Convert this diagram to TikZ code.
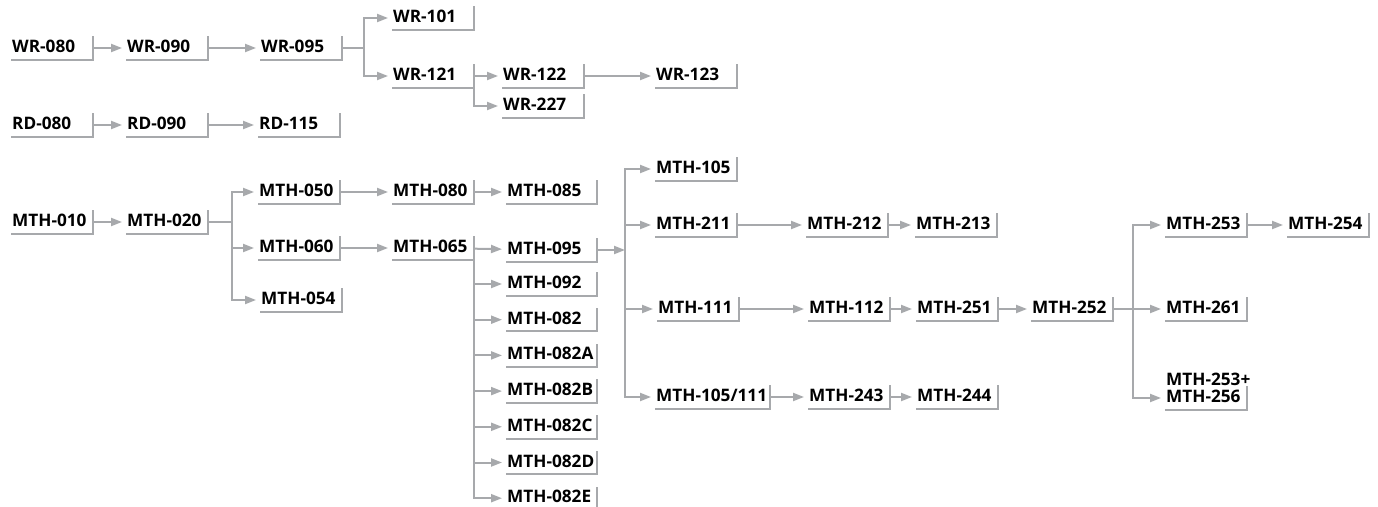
\documentclass[tikz,border=0pt]{standalone}
\usepackage{fontspec}
\setmainfont{Open Sans}
\usetikzlibrary{arrows.meta}
\definecolor{linegray}{RGB}{167,169,172}
\exhyphenpenalty=10000

\begin{document}
\begin{tikzpicture}[x=1pt,y=-1pt,
    crs/.style={font=\bfseries\fontsize{17.2}{17}\selectfont,anchor=west,inner xsep=1pt,inner ysep=4pt,
      text height=12pt,text depth=3pt,text width=80pt,align=left},
    wide/.style={text width=89pt},
    crstop/.style={font=\bfseries\fontsize{17.2}{17}\selectfont,anchor=south west,inner sep=1pt,text depth=0pt},
    bar/.style={draw=linegray,line width=2pt},
    link/.style={bar,-{Triangle[length=11pt,width=8pt]},shorten >=4pt}]
  \useasboundingbox (0,0) rectangle (1378,506);

  % writing
  \node[crs] (wr080) at (11,48) {WR-080};
  \node[crs] (wr090) at (126,48) {WR-090};
  \node[crs] (wr095) at (260,48) {WR-095};
  \node[crs] (wr101) at (392,18) {WR-101};
  \node[crs] (wr121) at (392,76) {WR-121};
  \node[crs] (wr122) at (502,76) {WR-122};
  \node[crs] (wr227) at (502,106) {WR-227};
  \node[crs] (wr123) at (655,76) {WR-123};

  % reading
  \node[crs] (rd080) at (11,125) {RD-080};
  \node[crs] (rd090) at (126,125) {RD-090};
  \node[crs] (rd115) at (258,125) {RD-115};

  % math
  \node[crs] (mth010) at (11,222) {MTH-010};
  \node[crs] (mth020) at (126,222) {MTH-020};
  \node[crs] (mth050) at (258,192) {MTH-050};
  \node[crs] (mth080) at (392,192) {MTH-080};
  \node[crs,wide] (mth085) at (506,192) {MTH-085};
  \node[crs] (mth060) at (258,248) {MTH-060};
  \node[crs] (mth065) at (392,248) {MTH-065};
  \node[crs] (mth054) at (260,300) {MTH-054};
  \node[crs,wide] (mth095) at (506,250) {MTH-095};
  \foreach[count=\i,evaluate={284+(\i-1)*35.7} as \py] \c in {092,082,082A,082B,082C,082D,082E}
    \node[crs,wide] (mth\c) at (506,\py) {MTH-\c};
  \coordinate (hub) at (625,250);
  \node[crs] (mth105) at (655,169) {MTH-105};
  \node[crs] (mth211) at (655,225) {MTH-211};
  \node[crs] (mth212) at (806,225) {MTH-212};
  \node[crs] (mth213) at (915,225) {MTH-213};
  \node[crs] (mth111) at (657,309) {MTH-111};
  \node[crs] (mth112) at (808,309) {MTH-112};
  \node[crs] (mth251) at (916,309) {MTH-251};
  \node[crs] (mth252) at (1031,309) {MTH-252};
  \node[crs,text width=113pt] (mth105111) at (655,397) {MTH-105/111};
  \node[crs] (mth243) at (808,397) {MTH-243};
  \node[crs] (mth244) at (916,397) {MTH-244};
  \node[crs] (mth253) at (1165,225) {MTH-253};
  \node[crs] (mth254) at (1287,225) {MTH-254};
  \node[crs] (mth261) at (1165,309) {MTH-261};
  \node[crs] (mth256) at (1165,398) {MTH-256};
  \node[crstop] (mth253p) at (mth256.north west) {MTH-253+};

  \foreach \n in {wr080,wr090,wr095,wr101,wr121,wr122,wr227,wr123,rd080,rd090,rd115,
      mth010,mth020,mth050,mth080,mth085,mth060,mth065,mth054,mth095,
      mth092,mth082,mth082A,mth082B,mth082C,mth082D,mth082E,
      mth105,mth211,mth212,mth213,mth111,mth112,mth251,mth252,
      mth105111,mth243,mth244,mth253,mth254,mth261,mth256}
    \draw[bar] (\n.south west) -- (\n.south east) -- (\n.north east);

  \draw[link] (wr080) -- (wr090);
  \draw[link] (wr090) -- (wr095);
  \draw[link] (wr095.east) -- ++(22,0) |- (wr101);
  \draw[link] (wr095.east) -- ++(22,0) |- (wr121);
  \draw[link] (wr121) -- (wr122);
  \draw[link] (wr121.east) |- (wr227);
  \draw[link] (wr122) -- (wr123);
  \draw[link] (rd080) -- (rd090);
  \draw[link] (rd090) -- (rd115);
  \draw[link] (mth010) -- (mth020);
  \foreach \t in {mth050,mth060,mth054}
    \draw[link] (mth020.east) -- ++(24,0) |- (\t);
  \draw[link] (mth050) -- (mth080);
  \draw[link] (mth080) -- (mth085);
  \draw[link] (mth060) -- (mth065);
  \draw[link] (mth065) -- (mth095);
  \foreach \t in {mth092,mth082,mth082A,mth082B,mth082C,mth082D,mth082E}
    \draw[link] (mth065.east) |- (\t);
  \draw[link,shorten >=0pt] (mth095) -- (hub);
  \foreach \t in {mth105,mth211,mth111,mth105111}
    \draw[link] (hub) |- (\t);
  \draw[link] (mth211) -- (mth212);
  \draw[link] (mth212) -- (mth213);
  \draw[link] (mth111) -- (mth112);
  \draw[link] (mth112) -- (mth251);
  \draw[link] (mth251) -- (mth252);
  \foreach \t in {mth253,mth261,mth256}
    \draw[link] (mth252.east) -- ++(20,0) |- (\t);
  \draw[link] (mth253) -- (mth254);
  \draw[link] (mth105111) -- (mth243);
  \draw[link] (mth243) -- (mth244);
\end{tikzpicture}
\end{document}
